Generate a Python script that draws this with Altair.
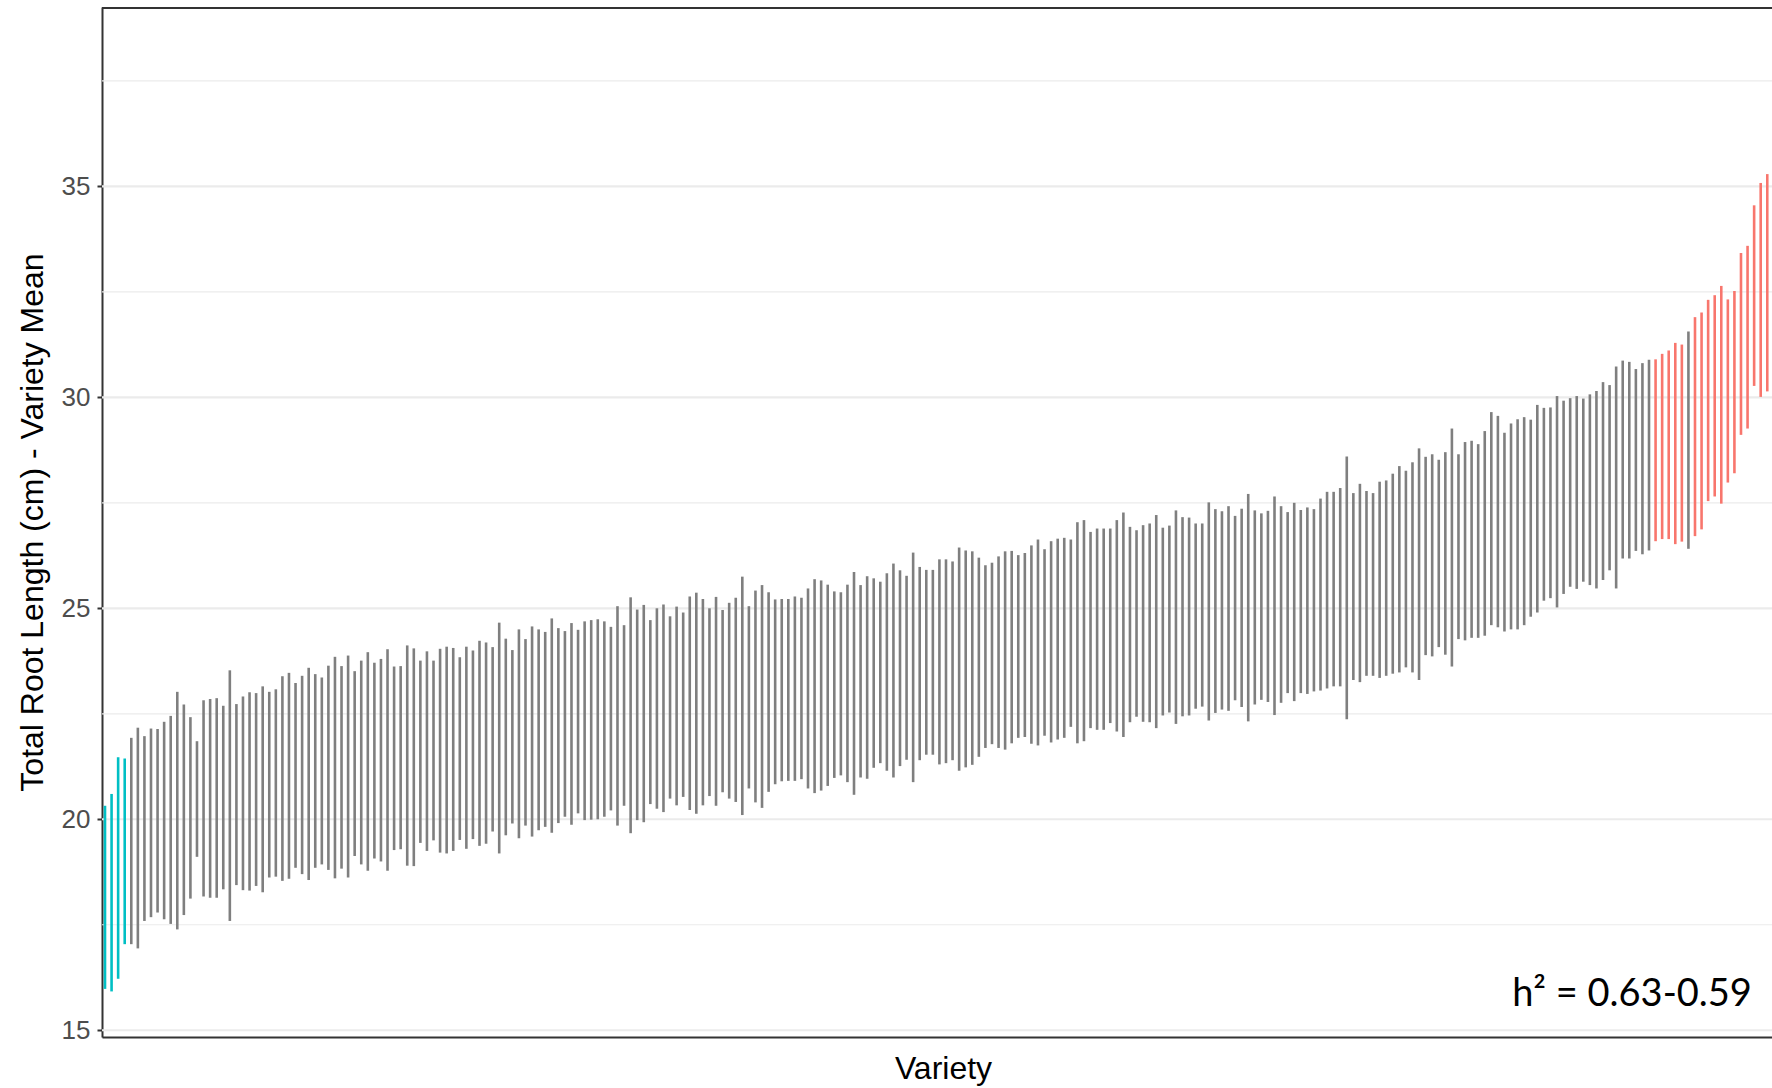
import altair as alt
import pandas as pd

# Upper ends of each variety's interval (sorted varieties, left to right)
highs = [
    20.32, 20.60, 21.47, 21.44, 21.93, 22.17, 21.97, 22.15, 22.14, 22.31, 22.45, 23.02, 22.72, 22.42, 21.85, 22.82, 22.85, 22.87, 22.69, 23.53, 22.73, 22.91, 23.01,
    22.99, 23.15, 23.02, 23.08, 23.39, 23.47, 23.23, 23.40, 23.59, 23.44, 23.36, 23.64, 23.85, 23.63, 23.88, 23.51, 23.76, 23.96, 23.71, 23.80, 24.03, 23.62, 23.63,
    24.12, 24.05, 23.76, 23.98, 23.76, 24.04, 24.09, 24.06, 23.84, 24.09, 24.00, 24.23, 24.19, 24.08, 24.66, 24.28, 24.01, 24.50, 24.27, 24.57, 24.50, 24.44, 24.76,
    24.53, 24.46, 24.65, 24.49, 24.69, 24.72, 24.74, 24.69, 24.56, 25.05, 24.60, 25.26, 24.97, 25.08, 24.72, 25.00, 25.09, 24.81, 25.04, 24.90, 25.28, 25.37, 25.22,
    25.00, 25.27, 24.96, 25.13, 25.25, 25.75, 25.05, 25.42, 25.55, 25.38, 25.21, 25.22, 25.22, 25.28, 25.25, 25.47, 25.69, 25.66, 25.56, 25.40, 25.38, 25.56, 25.86,
    25.55, 25.76, 25.71, 25.63, 25.83, 26.06, 25.90, 25.77, 26.32, 25.98, 25.91, 25.91, 26.16, 26.16, 26.11, 26.44, 26.37, 26.35, 26.20, 26.02, 26.08, 26.23, 26.35,
    26.36, 26.26, 26.31, 26.49, 26.63, 26.40, 26.59, 26.65, 26.67, 26.63, 27.04, 27.09, 26.81, 26.89, 26.89, 26.89, 27.09, 27.27, 26.93, 26.85, 26.97, 27.01, 27.21,
    26.91, 26.96, 27.32, 27.16, 27.15, 27.01, 27.01, 27.51, 27.35, 27.30, 27.42, 27.19, 27.36, 27.71, 27.32, 27.25, 27.31, 27.65, 27.42, 27.28, 27.50, 27.33, 27.39, 27.35,
    27.60, 27.76, 27.76, 27.85, 28.60, 27.73, 27.95, 27.78, 27.73, 28.00, 28.03, 28.19, 28.37, 28.26, 28.46, 28.79, 28.59, 28.65, 28.52, 28.70, 29.26, 28.65, 28.94,
    28.97, 28.89, 29.20, 29.65, 29.56, 29.16, 29.38, 29.48, 29.53, 29.47, 29.82, 29.75, 29.76, 30.03, 29.92, 29.98, 30.03, 29.97, 30.07, 30.15, 30.36, 30.29, 30.73,
    30.87, 30.84, 30.67, 30.81, 30.89, 30.90, 31.03, 31.11, 31.29, 31.25, 31.56, 31.90, 32.01, 32.31, 32.42, 32.64, 32.32, 32.52, 33.42, 33.59, 34.55, 35.08, 35.29,
]

# Lower ends of each variety's interval
lows = [
    15.98, 15.92, 16.22, 17.04, 17.04, 16.94, 17.59, 17.68, 17.79, 17.63, 17.52, 17.39, 17.73, 18.12, 19.11, 18.17, 18.14, 18.14, 18.34, 17.59, 18.44, 18.32, 18.31,
    18.42, 18.27, 18.62, 18.64, 18.54, 18.59, 18.85, 18.70, 18.56, 18.85, 18.93, 18.80, 18.60, 18.83, 18.62, 19.13, 18.93, 18.78, 19.07, 19.00, 18.78, 19.27, 19.29,
    18.90, 18.89, 19.44, 19.25, 19.50, 19.21, 19.19, 19.25, 19.51, 19.30, 19.53, 19.37, 19.42, 19.71, 19.19, 19.62, 19.90, 19.55, 19.85, 19.59, 19.74, 19.82, 19.68,
    19.91, 20.06, 19.87, 20.14, 19.98, 19.99, 20.00, 20.06, 20.21, 19.85, 20.32, 19.67, 19.98, 19.93, 20.36, 20.25, 20.17, 20.49, 20.33, 20.53, 20.22, 20.13, 20.33,
    20.55, 20.32, 20.64, 20.49, 20.41, 20.10, 20.73, 20.40, 20.27, 20.65, 20.83, 20.90, 20.91, 20.91, 20.95, 20.73, 20.62, 20.68, 20.79, 20.98, 21.04, 20.88, 20.58,
    20.99, 20.96, 21.22, 21.33, 21.15, 20.99, 21.26, 21.41, 20.88, 21.40, 21.53, 21.53, 21.30, 21.33, 21.40, 21.15, 21.23, 21.29, 21.48, 21.69, 21.78, 21.69, 21.65,
    21.80, 21.93, 21.95, 21.79, 21.75, 21.98, 21.82, 21.89, 21.93, 22.19, 21.80, 21.85, 22.16, 22.12, 22.12, 22.28, 22.08, 21.95, 22.30, 22.43, 22.31, 22.30, 22.16,
    22.46, 22.53, 22.26, 22.44, 22.46, 22.62, 22.67, 22.34, 22.52, 22.60, 22.57, 22.82, 22.66, 22.32, 22.72, 22.83, 22.78, 22.47, 22.76, 22.99, 22.80, 22.99, 22.97, 23.03,
    23.05, 23.10, 23.15, 23.15, 22.37, 23.30, 23.25, 23.40, 23.40, 23.35, 23.40, 23.45, 23.48, 23.60, 23.48, 23.30, 23.89, 23.86, 24.08, 23.90, 23.62, 24.27, 24.24,
    24.30, 24.30, 24.35, 24.60, 24.55, 24.45, 24.50, 24.50, 24.60, 24.80, 24.90, 25.18, 25.24, 25.02, 25.34, 25.51, 25.46, 25.63, 25.55, 25.47, 25.67, 25.90, 25.47,
    26.18, 26.18, 26.36, 26.28, 26.37, 26.59, 26.64, 26.64, 26.52, 26.58, 26.41, 26.71, 26.87, 27.54, 27.65, 27.48, 27.98, 28.20, 29.11, 29.26, 30.27, 30.01, 30.14,
]

# C = low-end varieties (cyan), G = others (grey), R = high-end varieties (red)
group_codes = "CCCC" + "G" * 232 + "RRRRR" + "G" + "R" * 12
group_names = {"C": "low", "G": "mid", "R": "high"}

major_grid = [15, 20, 25, 30, 35]
minor_grid = [17.5, 22.5, 27.5, 32.5, 37.5]
annotation = "h\u00b2 = 0.63-0.59"

W, H = 1670, 1030
ydom = [14.84, 39.25]
xdom = [0.543, 254.72]

df = pd.DataFrame({
    "variety": list(range(1, len(highs) + 1)),
    "low": lows,
    "high": highs,
    "group": [group_names[c] for c in group_codes],
})
grid_df = pd.DataFrame({
    "v": major_grid + minor_grid,
    "kind": ["major"] * len(major_grid) + ["minor"] * len(minor_grid),
})
one = pd.DataFrame({"label": [annotation]})

yscale = alt.Scale(domain=ydom, nice=False, zero=False)
xscale = alt.Scale(domain=xdom, nice=False, zero=False)

yaxis = alt.Axis(
    title="Total Root Length (cm) - Variety Mean", values=major_grid, grid=False,
    domain=True, domainColor="#333333", domainWidth=2,
    ticks=True, tickColor="#333333", tickWidth=2, tickSize=5,
    labelFont="Liberation Sans", labelFontSize=26, labelColor="#4D4D4D", labelPadding=7,
    titleFont="Liberation Sans", titleFontSize=32, titleFontWeight="normal",
    titleColor="#000000", titlePadding=12)
xaxis = alt.Axis(
    title="Variety", labels=False, ticks=False, grid=False, domain=True,
    domainColor="#333333", domainWidth=2,
    titleFont="Liberation Sans", titleFontSize=32, titleFontWeight="normal",
    titleColor="#000000", titlePadding=16, titleX=W / 2 + 6)

grid = alt.Chart(grid_df).mark_rule(color="#EBEBEB").encode(
    y=alt.Y("v:Q", scale=yscale, axis=yaxis, title="Total Root Length (cm) - Variety Mean"),
    strokeWidth=alt.StrokeWidth("kind:N", scale=alt.Scale(domain=["major", "minor"], range=[2.2, 1.2]), legend=None),
)

bars = alt.Chart(df).mark_rule(strokeWidth=2.6, clip=True).encode(
    x=alt.X("variety:Q", scale=xscale, axis=xaxis),
    y=alt.Y("low:Q", scale=yscale, axis=yaxis, title="Total Root Length (cm) - Variety Mean"),
    y2="high:Q",
    color=alt.Color("group:N", scale=alt.Scale(domain=["low", "mid", "high"],
                                               range=["#00BFC4", "#7F7F7F", "#F8766D"]), legend=None),
)

top_border = alt.Chart(one).mark_rule(color="#333333", strokeWidth=2).encode(
    x=alt.value(0), x2=alt.value(W + 5), y=alt.value(1),
)

text = alt.Chart(one).mark_text(font="Lato", fontSize=38, align="center", baseline="middle", color="#000000").encode(
    x=alt.value(1530), y=alt.value(988), text="label:N",
)

chart = alt.layer(grid, bars, top_border, text).properties(
    width=W, height=H,
    autosize=alt.AutoSizeParams(type="none"),
    padding={"left": 102, "top": 7, "right": 0, "bottom": 51},
).configure_view(stroke=None).configure(background="white")

chart.save("out.html", embed_options={"renderer": "svg", "actions": False})
